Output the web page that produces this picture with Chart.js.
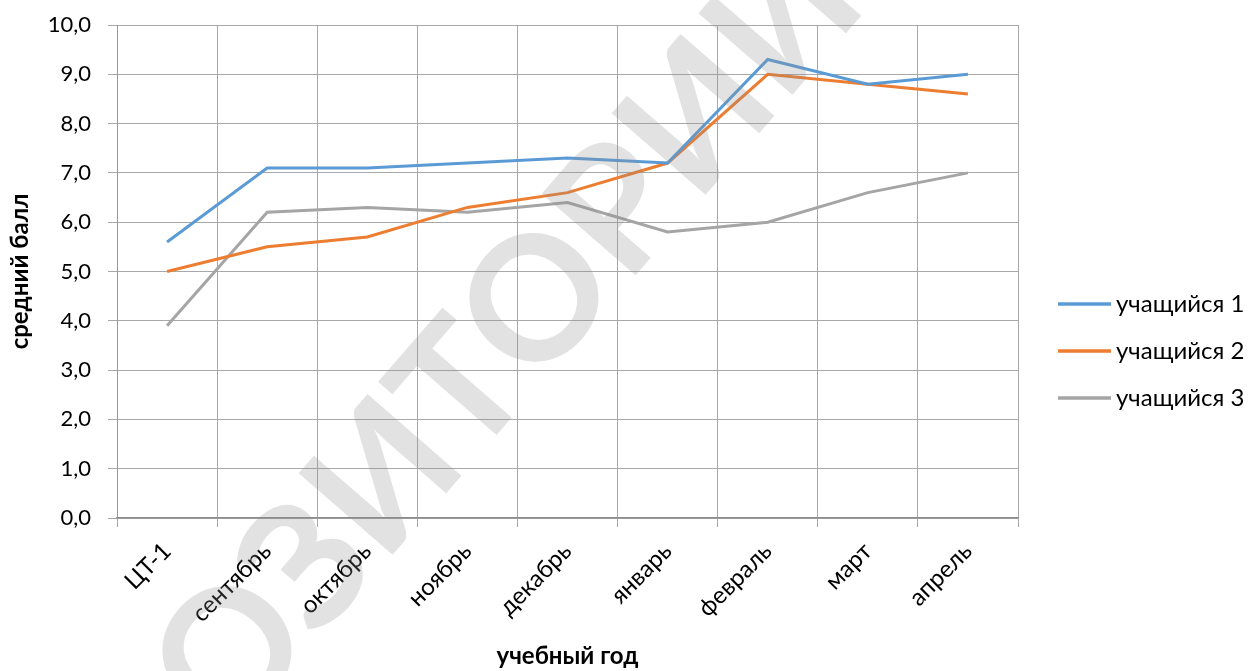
<!DOCTYPE html>
<html>
<head>
<meta charset="utf-8">
<script src="https://cdn.jsdelivr.net/npm/chart.js@4"></script>
<style>
  html, body { margin: 0; padding: 0; background: #fff; }
  #wrap { width: 1250px; height: 671px; }
</style>
</head>
<body>
<div id="wrap"><canvas id="scoreChart"></canvas></div>
<script>
var months = ['ЦТ-1', 'сентябрь', 'октябрь', 'ноябрь', 'декабрь', 'январь', 'февраль', 'март', 'апрель'];
var student1 = [5.6, 7.1, 7.1, 7.2, 7.3, 7.2, 9.3, 8.8, 9.0];
var student2 = [5.0, 5.5, 5.7, 6.3, 6.6, 7.2, 9.0, 8.8, 8.6];
var student3 = [3.9, 6.2, 6.3, 6.2, 6.4, 5.8, 6.0, 6.6, 7.0];
var seriesNames = ['учащийся 1', 'учащийся 2', 'учащийся 3'];

var blue = '#5b9bd5'
var orange = '#ed7d31'
var grey = '#a5a5a5'
var font = 'Lato, "Liberation Sans", sans-serif'

// legend on the right, drawn by hand
var sideLegend = {
    id: 'sideLegend',
    afterDraw: function(chart) {
        var ctx = chart.ctx;
        ctx.save();
        ctx.font = '24px ' + font;
        ctx.textBaseline = 'middle';
        ctx.fillStyle = '#000';
        chart.data.datasets.forEach(function(ds, i) {
            var y = 304 + i * 47;
            ctx.strokeStyle = ds.borderColor;
            ctx.lineWidth = 3.5;
            ctx.beginPath();
            ctx.moveTo(1058, y);
            ctx.lineTo(1111, y);
            ctx.stroke();
            ctx.fillText(ds.label, 1116, y);
        });
        ctx.restore();
    }
};

// faint repository watermark over the picture
var watermark = {
    id: 'watermark',
    afterDraw: function(chart) {
        var ctx = chart.ctx;
        ctx.save();
        ctx.translate(398, 464);
        ctx.rotate(-49 * Math.PI / 180);
        ctx.font = 'bold 172px ' + font;
        ctx.textAlign = 'center';
        ctx.textBaseline = 'middle';
        ctx.fillStyle = 'rgba(140,140,140,0.25)';
        ctx.fillText('РЕПОЗИТОРИЙ', 0, 0);
        ctx.restore();
    }
};

var scoreChart = new Chart(document.getElementById('scoreChart'), {
    type: 'line',
    data: {
        labels: months,
        datasets: [
            { label: seriesNames[0], data: student1, borderColor: blue, backgroundColor: blue },
            { label: seriesNames[1], data: student2, borderColor: orange, backgroundColor: orange },
            { label: seriesNames[2], data: student3, borderColor: grey, backgroundColor: grey }
        ]
    },
    options: {
        responsive: true,
        maintainAspectRatio: false,
        animation: false,
        elements: {
            line: { borderWidth: 3, tension: 0 },
            point: { radius: 0 }
        },
        layout: { padding: { top: 25, right: 232, left: 0, bottom: 0 } },
        plugins: {
            legend: { display: false },
            tooltip: { enabled: false }
        },
        scales: {
            x: {
                offset: true,
                grid: { offset: true, color: '#a8a8a8', tickLength: 9 },
                border: { color: '#8c8c8c', width: 1.5 },
                ticks: {
                    color: '#000',
                    font: { family: font, size: 24 },
                    maxRotation: 45,
                    minRotation: 45,
                    padding: 10
                },
                title: {
                    display: true,
                    text: 'учебный год',
                    color: '#000',
                    font: { family: font, size: 24, weight: 'bold' },
                    padding: { top: 4, bottom: 0 }
                },
                afterFit: function(scale) { scale.height = 153; }
            },
            y: {
                min: 0,
                max: 10,
                grid: { color: '#a8a8a8', tickLength: 9 },
                border: { color: '#999' },
                ticks: {
                    stepSize: 1,
                    color: '#000',
                    font: { family: font, size: 22 },
                    padding: 17,
                    callback: function(v) { return v.toFixed(1).replace('.', ','); }
                },
                title: {
                    display: true,
                    text: 'средний балл',
                    color: '#000',
                    font: { family: font, size: 24, weight: 'bold' },
                    padding: { top: 6, bottom: 0 }
                },
                afterFit: function(scale) {
                    scale.width = 117;
                    scale.paddingTop = 0;
                    scale.paddingBottom = 0;
                }
            }
        }
    },
    plugins: [sideLegend, watermark]
});
</script>
</body>
</html>
